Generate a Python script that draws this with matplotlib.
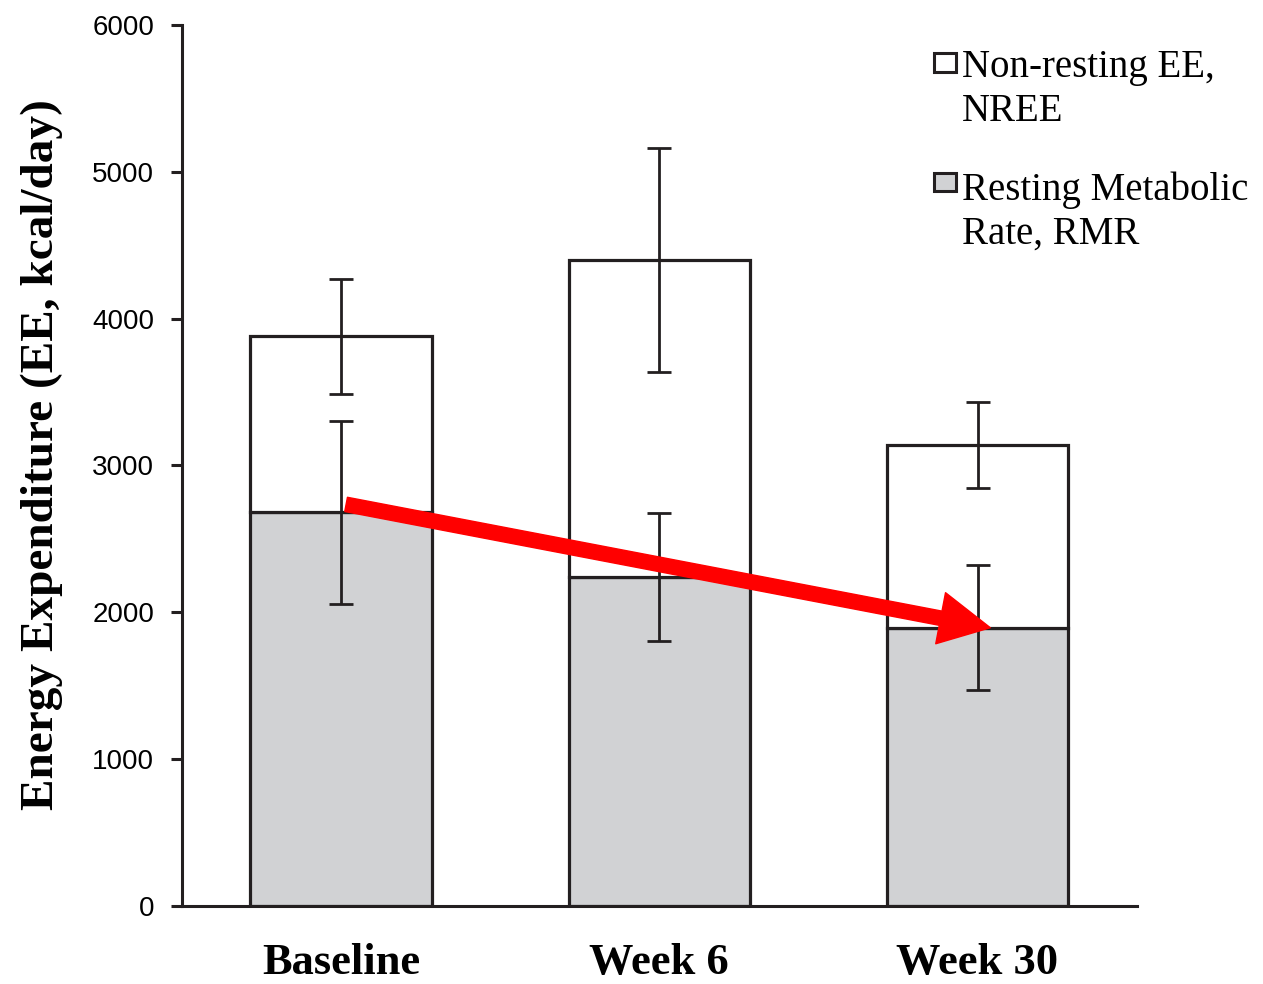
import numpy as np
import matplotlib.pyplot as plt
from matplotlib.patches import Rectangle

# Datos (kcal/día)
grupos = ['Baseline', 'Week 6', 'Week 30']
rmr = [2680, 2240, 1895]          # Resting Metabolic Rate
nree = [1200, 2160, 1245]         # Non-resting EE (apilado sobre RMR)
err_total = [390, 760, 290]
err_rmr = [620, 435, 425]
yticks = [0, 1000, 2000, 3000, 4000, 5000, 6000]

negro = '#231f20'
gris = '#d1d2d4'

fig = plt.figure(figsize=(12.63, 9.84), dpi=100)
ax = fig.add_axes([0.144, 0.0793, 0.756, 0.8953])

x = np.arange(len(grupos))
total = np.array(rmr) + np.array(nree)

ax.bar(x, rmr, width=0.57, color=gris, edgecolor=negro, linewidth=2.3, zorder=2)
ax.bar(x, nree, bottom=rmr, width=0.57, color='white', edgecolor=negro, linewidth=2.3, zorder=2)

ax.errorbar(x, total, yerr=err_total, fmt='none', ecolor=negro, elinewidth=2,
            capsize=8.5, capthick=2, zorder=3)
ax.errorbar(x, rmr, yerr=err_rmr, fmt='none', ecolor=negro, elinewidth=2,
            capsize=8.5, capthick=2, zorder=3)

# Flecha roja: de RMR inicial a RMR semana 30
ax.annotate('', xy=(x[2] + 0.04, rmr[2]), xytext=(x[0] + 0.016, 2735),
            arrowprops=dict(arrowstyle='simple,head_length=0.7,head_width=0.72,tail_width=0.2',
                            color='#ff0000', mutation_scale=52, shrinkA=0, shrinkB=0),
            zorder=4)

ax.set_xlim(-0.5, 2.5)
ax.set_ylim(0, 6000)
ax.set_yticks(yticks)
ax.set_xticks(x)
ax.set_xticklabels(grupos, family='Liberation Serif', fontweight='bold', fontsize=32)
ax.tick_params(axis='x', length=0, pad=27)
ax.tick_params(axis='y', length=8, width=2.2, color=negro, pad=12, labelsize=20)
for lab in ax.get_yticklabels():
    lab.set_family('Liberation Sans')

for s in ['top', 'right']:
    ax.spines[s].set_visible(False)
for s in ['left', 'bottom']:
    ax.spines[s].set_linewidth(2.2)
    ax.spines[s].set_color(negro)

ax.set_ylabel('Energy Expenditure (EE, kcal/day)', family='Liberation Serif',
              fontweight='bold', fontsize=34)
ax.yaxis.set_label_coords(-0.125, 0.512)

# Leyenda manual
ax.add_patch(Rectangle((0.788, 0.947), 0.023, 0.021, transform=ax.transAxes,
                       facecolor='white', edgecolor=negro, linewidth=2.2, clip_on=False))
ax.add_patch(Rectangle((0.788, 0.811), 0.023, 0.021, transform=ax.transAxes,
                       facecolor=gris, edgecolor=negro, linewidth=2.2, clip_on=False))
ax.text(0.817, 0.973, 'Non-resting EE,\nNREE', transform=ax.transAxes, va='top', ha='left',
        family='Liberation Serif', fontsize=28, linespacing=1.25)
ax.text(0.817, 0.834, 'Resting Metabolic\nRate, RMR', transform=ax.transAxes, va='top', ha='left',
        family='Liberation Serif', fontsize=28, linespacing=1.25)

fig.savefig('out.png', dpi=100)
